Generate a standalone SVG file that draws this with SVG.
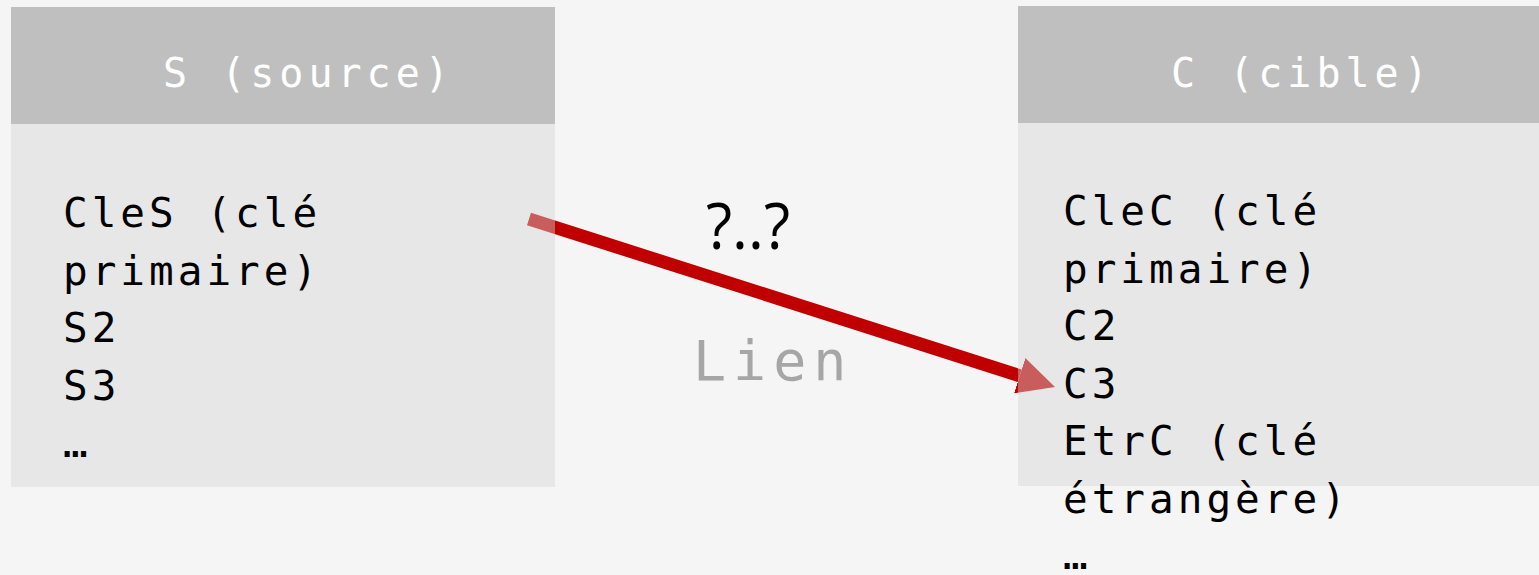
<svg xmlns="http://www.w3.org/2000/svg" width="1539" height="575" viewBox="0 0 1539 575">
  <style>
    .hdr { fill: #bfbfbf; }
    .body { fill: rgb(214,214,214); fill-opacity: 0.43; }
    .htxt { font-family: "DejaVu Sans Mono", "Liberation Mono", monospace; font-size: 40px; letter-spacing: 5px; fill: #ffffff; }
    .btxt { font-family: "DejaVu Sans Mono", "Liberation Mono", monospace; font-size: 41px; letter-spacing: 4px; fill: #000000; }
    .link { stroke: #c00000; stroke-width: 13; fill: none; stroke-linecap: butt; }
    .mult { font-family: "Open Sans", "Liberation Sans", sans-serif; font-size: 64px; fill: #000000; }
    .lbl { font-family: "DejaVu Sans Mono", "Liberation Mono", monospace; font-size: 55px; letter-spacing: 7px; fill: #a6a6a6; }
  </style>
  <defs>
    <marker id="arrow" viewBox="0 0 37 37" markerWidth="37" markerHeight="37" markerUnits="userSpaceOnUse" refX="0" refY="18.5" orient="auto">
      <path d="M0,0 L37,18.5 L0,37 Z" fill="#c00000"/>
    </marker>
  </defs>
  <rect x="0" y="0" width="1539" height="575" fill="#f5f5f5"/>

  <g id="connectors">
    <line class="link" x1="529" y1="219" x2="1019.7" y2="375.7" marker-end="url(#arrow)"/>
    <text class="mult" x="706" y="249" textLength="84" lengthAdjust="spacingAndGlyphs">?..?</text>
    <text class="lbl" x="693" y="380">Lien</text>
  </g>

  <g id="node-source">
    <rect class="hdr" x="11" y="7" width="544" height="117"/>
    <rect class="body" x="11" y="124" width="544" height="363"/>
    <text class="htxt" x="163" y="87">S (source)</text>
    <text class="btxt" x="63" y="227">CleS (clé</text>
    <text class="btxt" x="63" y="284.5">primaire)</text>
    <text class="btxt" x="63" y="342">S2</text>
    <text class="btxt" x="63" y="399.5">S3</text>
    <text class="btxt" x="63" y="457">…</text>
  </g>

  <g id="node-cible">
    <rect class="hdr" x="1018" y="6" width="521" height="117"/>
    <rect class="body" x="1018" y="123" width="521" height="363"/>
    <text class="htxt" x="1171" y="87">C (cible)</text>
    <text class="btxt" x="1063" y="225">CleC (clé</text>
    <text class="btxt" x="1063" y="282.5">primaire)</text>
    <text class="btxt" x="1063" y="340">C2</text>
    <text class="btxt" x="1063" y="397.5">C3</text>
    <text class="btxt" x="1063" y="455">EtrC (clé</text>
    <text class="btxt" x="1063" y="512.5">étrangère)</text>
    <text class="btxt" x="1063" y="569">…</text>
  </g>
</svg>
